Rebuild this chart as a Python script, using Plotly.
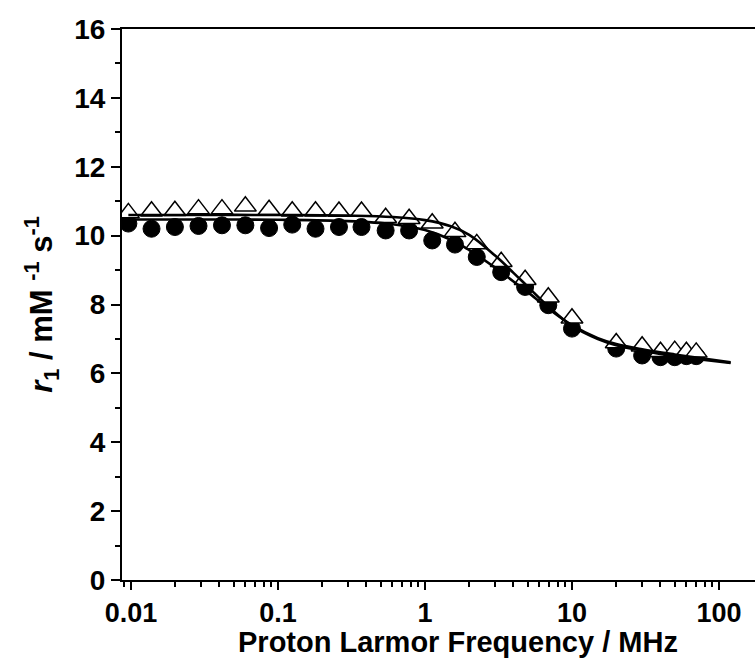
import plotly.graph_objects as go

# ---- data ----
freq_low = [0.0096, 0.0138, 0.0199, 0.0288, 0.0416, 0.060, 0.087, 0.125, 0.18, 0.26,
            0.37, 0.54, 0.78, 1.12, 1.6, 2.25, 3.3, 4.8, 6.9, 10.0]
freq_high = [20, 30, 40, 50, 60, 70]

circles_low = [10.35, 10.20, 10.25, 10.28, 10.30, 10.30, 10.22, 10.32, 10.20, 10.25,
               10.25, 10.15, 10.15, 9.86, 9.74, 9.38, 8.94, 8.51, 7.98, 7.30]
circles_high = [6.72, 6.52, 6.47, 6.47, 6.50, 6.50]

triangles_low = [10.66, 10.71, 10.72, 10.77, 10.77, 10.85, 10.75, 10.71, 10.71, 10.70,
                 10.70, 10.52, 10.49, 10.36, 10.11, 9.76, 9.24, 8.72, 8.21, 7.60]
triangles_high = [6.88, 6.79, 6.63, 6.66, 6.63, 6.61]

fit_freq = [0.0096, 0.03, 0.1, 0.3, 0.6, 1.0, 1.5, 2.0, 3.0, 4.0, 5.0, 7.0, 10, 15, 20, 30, 50, 70, 120]
fit_upper = [10.60, 10.60, 10.60, 10.58, 10.54, 10.45, 10.27, 10.02, 9.42, 8.92, 8.52, 7.92, 7.38, 7.00, 6.82, 6.66, 6.50, 6.42, 6.30]
fit_lower = [10.47, 10.47, 10.46, 10.42, 10.33, 10.16, 9.88, 9.58, 9.07, 8.67, 8.36, 7.86, 7.40, 7.02, 6.85, 6.70, 6.55, 6.46, 6.32]

x_tickvals = [0.01, 0.1, 1, 10, 100]
x_ticktext = ["0.01", "0.1", "1", "10", "100"]
y_tickvals = [0, 2, 4, 6, 8, 10, 12, 14, 16]

FONT = "Arial, 'Liberation Sans', sans-serif"

minor_x = [m * 10 ** e for e in range(-3, 3) for m in range(2, 10)]

fig = go.Figure()

fig.add_trace(go.Scatter(
    x=freq_low + freq_high, y=circles_low + circles_high, mode="markers",
    marker=dict(symbol="circle", size=17, color="black", line=dict(color="black", width=1)),
    showlegend=False))

fig.add_trace(go.Scatter(
    x=freq_low + freq_high, y=triangles_low + triangles_high, mode="markers",
    marker=dict(symbol="triangle-up", size=19, color="white", line=dict(color="black", width=1.5)),
    showlegend=False))

fig.add_trace(go.Scatter(
    x=fit_freq, y=fit_upper, mode="lines",
    line=dict(color="black", width=2.6, shape="spline", smoothing=1.0), showlegend=False))
fig.add_trace(go.Scatter(
    x=fit_freq, y=fit_lower, mode="lines",
    line=dict(color="black", width=2.6, shape="spline", smoothing=1.0), showlegend=False))

fig.update_layout(
    width=755, height=659,
    margin=dict(l=122, r=0, t=29, b=79),
    paper_bgcolor="white", plot_bgcolor="white",
    font=dict(family=FONT, color="black"),
    xaxis=dict(
        type="log", range=[-2.061, 2.245],
        tickvals=x_tickvals, ticktext=x_ticktext,
        ticks="outside", ticklen=8, tickwidth=2, tickcolor="black",
        minor=dict(tickvals=minor_x, ticks="outside", ticklen=5, tickwidth=1.5, tickcolor="black", showgrid=False),
        showline=True, linecolor="black", linewidth=2, mirror=True,
        showgrid=False, zeroline=False,
        tickfont=dict(family=FONT, size=27, color="black", weight="bold"),
    ),
    yaxis=dict(
        range=[0, 16], tickvals=y_tickvals,
        ticks="outside", ticklen=9, tickwidth=2, tickcolor="black",
        minor=dict(dtick=1, ticks="outside", ticklen=5, tickwidth=1.5, tickcolor="black", showgrid=False),
        showline=True, linecolor="black", linewidth=2, mirror=False,
        showgrid=False, zeroline=False,
        tickfont=dict(family=FONT, size=28, color="black", weight="bold"),
        title=dict(text="<i>r</i><sub>1</sub> / mM <sup>-1</sup> s<sup>-1</sup>",
                   font=dict(family=FONT, size=31, color="black", weight="bold"), standoff=12),
    ),
    annotations=[dict(
        text="Proton Larmor Frequency / MHz", xref="paper", yref="paper",
        x=0.531, y=0, yshift=-79, xanchor="center", yanchor="bottom", showarrow=False,
        borderpad=0,
        font=dict(family=FONT, size=29, color="black", weight="bold"))],
)

fig.write_html("out.html")
